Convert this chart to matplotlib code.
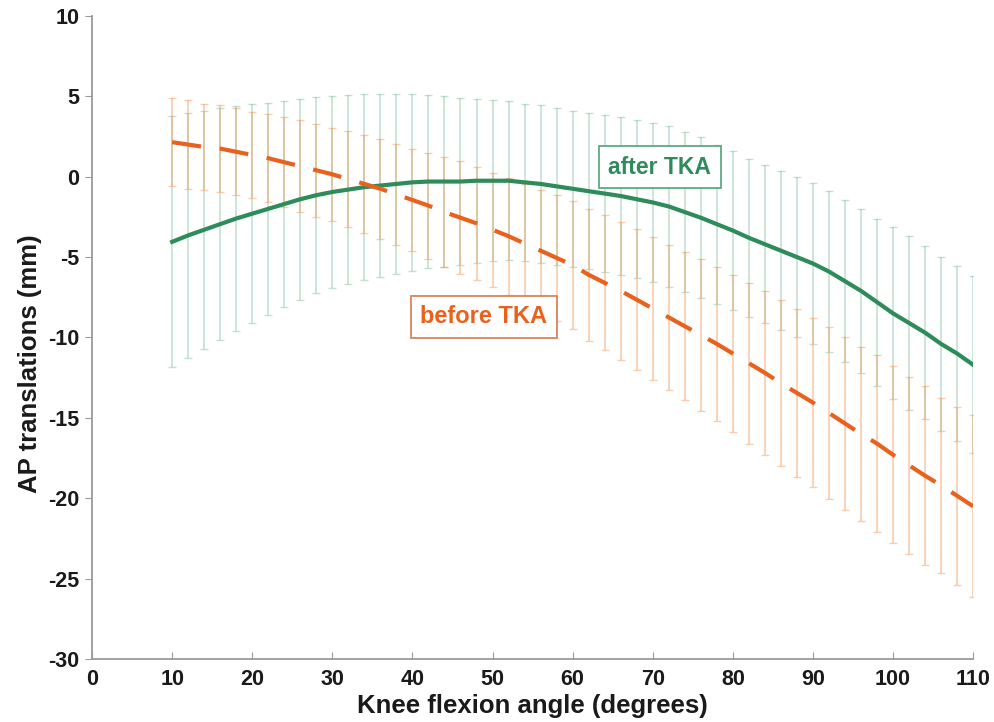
import matplotlib
matplotlib.use("Agg")
import matplotlib.pyplot as plt
import numpy as np

# knee flexion angles (deg), sampled every 2 degrees
angle = list(range(10, 111, 2))

# mean AP translation (mm) and standard deviation, before TKA
before_mean = [2.15, 2.0, 1.85, 1.75, 1.55, 1.35, 1.15, 0.9, 0.65, 0.4,
               0.15, -0.15, -0.45, -0.75, -1.1, -1.45, -1.8, -2.2, -2.55, -2.9,
               -3.3, -3.7, -4.15, -4.6, -5.05, -5.5, -6.1, -6.6, -7.1, -7.65,
               -8.2, -8.75, -9.3, -9.85, -10.4, -11.0, -11.6, -12.2, -12.85, -13.45,
               -14.05, -14.7, -15.35, -16.0, -16.6, -17.3, -17.95, -18.6, -19.2, -19.85,
               -20.5]
before_sd = [2.75, 2.75, 2.7, 2.7, 2.7, 2.7, 2.75, 2.8, 2.85, 2.9,
             2.9, 3.0, 3.05, 3.1, 3.15, 3.2, 3.3, 3.4, 3.5, 3.5,
             3.55, 3.65, 3.7, 3.8, 3.9, 4.0, 4.1, 4.2, 4.3, 4.4,
             4.45, 4.5, 4.6, 4.75, 4.8, 4.9, 5.0, 5.1, 5.15, 5.25,
             5.25, 5.35, 5.4, 5.4, 5.5, 5.5, 5.5, 5.55, 5.45, 5.55,
             5.65]

# mean AP translation (mm) and standard deviation, after TKA
after_mean = [-4.05, -3.65, -3.3, -2.95, -2.6, -2.3, -2.0, -1.7, -1.4, -1.15,
              -0.95, -0.8, -0.65, -0.55, -0.45, -0.35, -0.3, -0.3, -0.3, -0.25,
              -0.25, -0.25, -0.35, -0.45, -0.6, -0.75, -0.9, -1.05, -1.2, -1.4,
              -1.6, -1.85, -2.2, -2.55, -2.95, -3.35, -3.8, -4.2, -4.6, -5.0,
              -5.4, -5.9, -6.5, -7.1, -7.8, -8.5, -9.1, -9.7, -10.4, -11.0,
              -11.7]
after_sd = [7.8, 7.6, 7.4, 7.2, 7.0, 6.8, 6.6, 6.4, 6.25, 6.1,
            6.0, 5.9, 5.8, 5.7, 5.6, 5.5, 5.4, 5.3, 5.2, 5.1,
            5.0, 4.95, 4.9, 4.9, 4.9, 4.85, 4.85, 4.9, 4.9, 4.9,
            4.95, 5.0, 5.0, 5.0, 4.95, 4.95, 4.9, 4.9, 4.95, 5.0,
            5.0, 5.0, 5.05, 5.1, 5.2, 5.35, 5.4, 5.4, 5.4, 5.45,
            5.5]

green = "#2e8b5a"
orange = "#e8621e"

plt.rcParams["font.family"] = ["Liberation Sans", "DejaVu Sans"]
plt.rcParams["font.weight"] = "bold"
plt.rcParams["axes.unicode_minus"] = False

fig = plt.figure(figsize=(9.95, 7.22), dpi=100)
ax = fig.add_axes([0.0925, 0.0873, 0.8855, 0.8906])

# error bars first, pale so the means stand out
ax.errorbar(angle, after_mean, yerr=after_sd, fmt="none", ecolor="#86c4a0",
            alpha=0.5, elinewidth=1.2, capsize=3, capthick=1.0, zorder=1)
ax.errorbar(angle, before_mean, yerr=before_sd, fmt="none", ecolor="#f59a5c",
            alpha=0.5, elinewidth=1.2, capsize=3, capthick=1.0, zorder=1)

ax.plot(angle, after_mean, color=green, lw=3.0, zorder=3)
ax.plot(angle, before_mean, color=orange, lw=3.0, dashes=(7, 4.5), zorder=3)

ax.text(70.9, 0.6, "after TKA", color=green, fontsize=16.5, fontweight="bold",
        ha="center", va="center", zorder=4,
        bbox=dict(boxstyle="square,pad=0.4", fc="white", ec="#5fa983", lw=1.3))
ax.text(48.9, -8.7, "before TKA", color=orange, fontsize=17, fontweight="bold",
        ha="center", va="center", zorder=4,
        bbox=dict(boxstyle="square,pad=0.4", fc="white", ec="#d9835a", lw=1.3))

ax.set_xlim(0, 110)
ax.set_ylim(-30, 10)
ax.set_xticks(range(0, 111, 10))
ax.set_yticks(range(-30, 11, 5))

for side in ["top", "right"]:
    ax.spines[side].set_visible(False)
for side in ["left", "bottom"]:
    ax.spines[side].set_color("#9a9a9a")
    ax.spines[side].set_linewidth(1.3)

ax.tick_params(axis="x", direction="in", length=5, color="#9a9a9a",
               labelsize=15.5, labelcolor="#1a1a1a", pad=7)
ax.tick_params(axis="y", direction="out", length=5, color="#9a9a9a",
               labelsize=15.5, labelcolor="#1a1a1a", pad=4)
for lab in ax.get_xticklabels() + ax.get_yticklabels():
    lab.set_fontweight("bold")

ax.set_xlabel("Knee flexion angle (degrees)", fontsize=18.5, fontweight="bold",
              color="#1a1a1a", labelpad=3)
ax.set_ylabel("AP translations (mm)", fontsize=18.5, fontweight="bold",
              color="#1a1a1a")
ax.yaxis.set_label_coords(-0.057, 0.459)

fig.savefig("out.png", dpi=100)
